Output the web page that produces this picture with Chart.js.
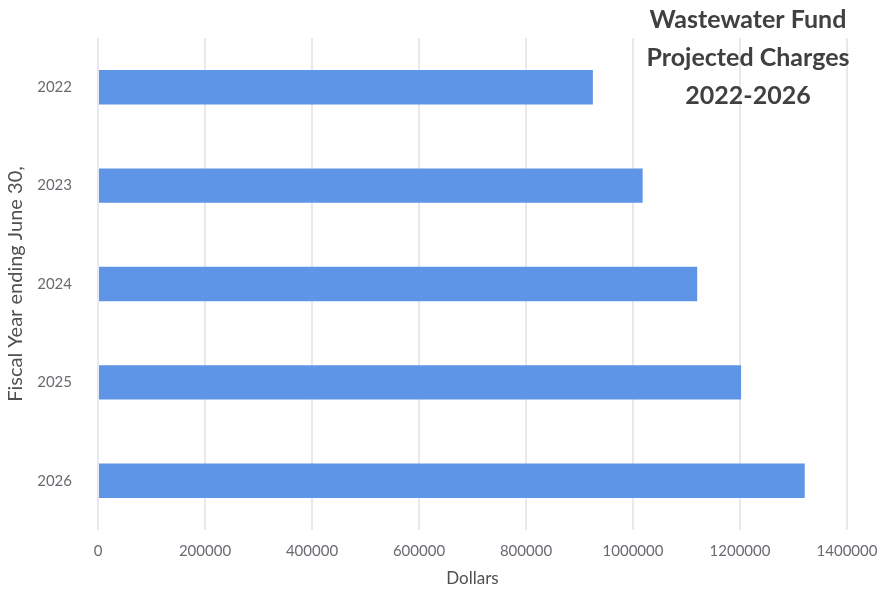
<!DOCTYPE html>
<html>
<head>
<meta charset="utf-8">
<script src="https://cdn.jsdelivr.net/npm/chart.js@4"></script>
<style>
  html, body { margin: 0; padding: 0; background: #fff; }
  #wrap { width: 884px; height: 593px; position: relative; }
</style>
</head>
<body>
<div id="wrap"><canvas id="myChart-bar"></canvas></div>
<script>
const years = ["2022", "2023", "2024", "2025", "2026"];
const charges = [925000, 1018000, 1120000, 1202000, 1321000];
const titleLines = ["Wastewater Fund", "Projected Charges", "2022-2026"];

const ctx = document.getElementById("myChart-bar").getContext("2d");

// title block sits inside the plot, top right
const titleText = {
  id: "title-text",
  afterDraw: function (chart) {
    const c = chart.ctx;
    c.save();
    c.font = "bold 25px Lato, 'Open Sans', sans-serif";
    c.fillStyle = "#404040";
    c.textAlign = "center";
    c.textBaseline = "middle";
    titleLines.forEach(function (line, i) {
      c.fillText(line, 748, 20 + i * 38);
    });
    c.restore();
  },
};

const myChart = new Chart(ctx, {
  type: "bar",
  data: {
    labels: years,
    datasets: [
      {
        data: charges,
        backgroundColor: "#5f95e6",
        borderWidth: 0,
        categoryPercentage: 1,
        barPercentage: 0.35,
      },
    ],
  },
  options: {
    indexAxis: "y",
    responsive: true,
    maintainAspectRatio: false,
    animation: false,
    layout: {
      padding: { top: 38, right: 37, bottom: 0, left: 0 },
    },
    scales: {
      x: {
        min: 0,
        max: 1400000,
        ticks: {
          stepSize: 200000,
          color: "#6a6a72",
          font: { family: "Lato, 'Open Sans', sans-serif", size: 15 },
          padding: 12,
          callback: function (value) {
            return String(value); // no thousands separators
          },
        },
        grid: {
          color: "#e8e9ee",
          lineWidth: 2,
          drawTicks: false,
        },
        border: { display: false },
        title: {
          display: true,
          text: "Dollars",
          color: "#505050",
          font: { family: "Lato, 'Open Sans', sans-serif", size: 17 },
          padding: { top: 4 },
        },
        afterFit: function (scale) {
          scale.height = 63;
          scale.paddingRight = 0; // last label may overhang the edge padding
        },
      },
      y: {
        ticks: {
          color: "#6a6a72",
          font: { family: "Lato, 'Open Sans', sans-serif", size: 15 },
          padding: 18,
        },
        grid: { display: false },
        border: { display: false },
        title: {
          display: true,
          text: "Fiscal Year ending June 30,",
          color: "#505050",
          font: { family: "Lato, 'Open Sans', sans-serif", size: 20 },
        },
        afterFit: function (scale) {
          scale.width = 98;
        },
      },
    },
    plugins: {
      legend: { display: false },
      tooltip: { enabled: false },
    },
  },
  plugins: [titleText],
});
</script>
</body>
</html>
